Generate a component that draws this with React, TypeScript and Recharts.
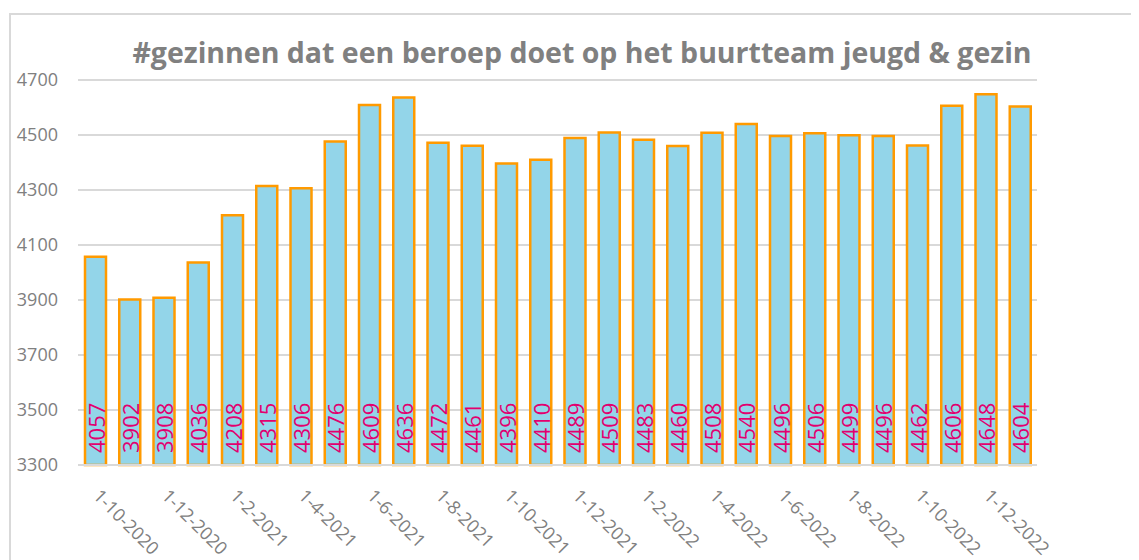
import { BarChart, Bar, XAxis, YAxis, CartesianGrid, LabelList } from "recharts";

const months = [
  "1-10-2020", "1-11-2020", "1-12-2020", "1-1-2021", "1-2-2021", "1-3-2021", "1-4-2021",
  "1-5-2021", "1-6-2021", "1-7-2021", "1-8-2021", "1-9-2021", "1-10-2021", "1-11-2021",
  "1-12-2021", "1-1-2022", "1-2-2022", "1-3-2022", "1-4-2022", "1-5-2022", "1-6-2022",
  "1-7-2022", "1-8-2022", "1-9-2022", "1-10-2022", "1-11-2022", "1-12-2022", "1-1-2023",
];

const families = [
  4057, 3902, 3908, 4036, 4208, 4315, 4306, 4476, 4609, 4636, 4472, 4461, 4396, 4410,
  4489, 4509, 4483, 4460, 4508, 4540, 4496, 4506, 4499, 4496, 4462, 4606, 4648, 4604,
];

const yTicks = [3300, 3500, 3700, 3900, 4100, 4300, 4500, 4700];

const data = months.map((m, i) => ({ month: m, value: families[i] }));

const FONT = "'Open Sans', sans-serif";
const GREY = "#808080";

function MonthTick({ x, y, payload }: any) {
  const tx = x - 3;
  const ty = y + 24;
  return (
    <text
      x={tx}
      y={ty}
      transform={`rotate(45, ${tx}, ${ty})`}
      textAnchor="start"
      fill={GREY}
      fontSize={18}
      fontFamily={FONT}
    >
      {payload.value}
    </text>
  );
}

function ValueLabel({ x, y, width, height, value }: any) {
  const cx = x + width / 2;
  const by = y + height - 12;
  return (
    <text
      x={cx}
      y={by}
      transform={`rotate(-90, ${cx}, ${by})`}
      textAnchor="start"
      dominantBaseline="central"
      fill="#E2006F"
      fontSize={22}
      fontFamily={FONT}
    >
      {value}
    </text>
  );
}

export default function App() {
  return (
    <div style={{ position: "relative", width: 1131, height: 552, fontFamily: FONT }}>
      <div
        style={{
          position: "absolute",
          left: 1,
          top: 5,
          width: 1140,
          height: 560,
          borderTop: "2px solid #d9d9d9",
          borderLeft: "2px solid #d9d9d9",
        }}
      />
      <div
        style={{
          position: "absolute",
          left: 124,
          width: 900,
          top: 25,
          textAlign: "center",
          fontSize: 28.5,
          fontWeight: 700,
          color: GREY,
          whiteSpace: "nowrap",
        }}
      >
        #gezinnen dat een beroep doet op het buurtteam jeugd &amp; gezin
      </div>
      <div style={{ position: "absolute", left: 0, top: 0 }}>
        <BarChart
          width={1131}
          height={552}
          data={data}
          margin={{ top: 72, right: 102, left: 10, bottom: 5 }}
          barSize={21}
        >
          <CartesianGrid vertical={false} stroke="#d9d9d9" strokeWidth={2} />
          <XAxis
            dataKey="month"
            interval={1}
            height={90}
            axisLine={{ stroke: "#d9d9d9", strokeWidth: 2 }}
            tickLine={false}
            tick={<MonthTick />}
          />
          <YAxis
            domain={[3300, 4700]}
            ticks={yTicks}
            width={60}
            axisLine={false}
            tickLine={false}
            tickSize={0}
            tickMargin={20}
            tick={{ fill: GREY, fontSize: 18, fontFamily: FONT }}
          />
          <Bar
            dataKey="value"
            fill="#93D5E9"
            stroke="#FF9A00"
            strokeWidth={2.5}
            isAnimationActive={false}
          >
            <LabelList dataKey="value" content={<ValueLabel />} />
          </Bar>
        </BarChart>
      </div>
    </div>
  );
}
